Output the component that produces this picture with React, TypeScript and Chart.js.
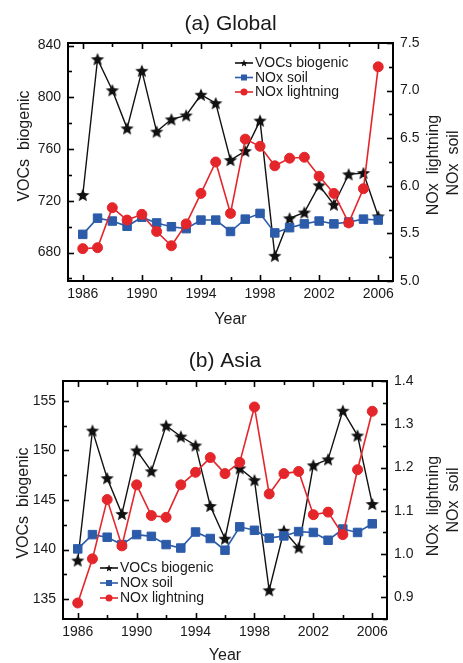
import React, { useEffect, useRef } from "react";
import { Chart, registerables } from "chart.js";

Chart.register(...registerables);

// ---- data ----
const years = [
  1986, 1987, 1988, 1989, 1990, 1991, 1992, 1993, 1994, 1995, 1996,
  1997, 1998, 1999, 2000, 2001, 2002, 2003, 2004, 2005, 2006,
];

const globalVocs = [
  724.5, 829.5, 805.5, 776, 820.5, 773.5, 783, 786, 802, 795.5, 751.5,
  758.5, 782, 677.5, 706.5, 711, 732, 717, 740.5, 741.5, 708,
];
const globalNoxSoil = [
  5.49, 5.66, 5.63, 5.575, 5.67, 5.61, 5.57, 5.55, 5.64, 5.64, 5.52,
  5.65, 5.71, 5.505, 5.56, 5.6, 5.63, 5.6, 5.62, 5.65, 5.64,
];
const globalNoxLightning = [
  5.34, 5.35, 5.77, 5.64, 5.7, 5.52, 5.37, 5.6, 5.92, 6.25, 5.71,
  6.49, 6.415, 6.21, 6.29, 6.3, 6.1, 5.92, 5.61, 5.97, 7.25,
];

const asiaVocs = [
  138.9, 152.0, 147.2, 143.6, 150.0, 147.9, 152.5, 151.4, 150.5, 144.4, 141.1,
  148.2, 147.0, 135.9, 141.9, 140.2, 148.5, 149.1, 154.0, 151.5, 144.6,
];
const asiaNoxSoil = [
  1.012, 1.045, 1.039, 1.022, 1.045, 1.041, 1.022, 1.014, 1.051, 1.036, 1.009,
  1.063, 1.055, 1.037, 1.042, 1.052, 1.05, 1.032, 1.058, 1.05, 1.07,
];
const asiaNoxLightning = [
  0.887, 0.989, 1.126, 1.019, 1.16, 1.089, 1.085, 1.16, 1.189, 1.223, 1.186,
  1.212, 1.34, 1.139, 1.186, 1.191, 1.091, 1.097, 1.045, 1.195, 1.33,
];

const yearTicks = [1986, 1990, 1994, 1998, 2002, 2006];
const globalLeftTicks = [680, 720, 760, 800, 840];
const globalRightTicks = [5.0, 5.5, 6.0, 6.5, 7.0, 7.5];
const asiaLeftTicks = [135, 140, 145, 150, 155];
const asiaRightTicks = [0.9, 1.0, 1.1, 1.2, 1.3, 1.4];

const seriesNames = ["VOCs biogenic", "NOx soil", "NOx lightning"];

// ---- styling ----
const FONT = "'Liberation Sans', Arial, Helvetica, sans-serif";
const BLACK = "#111111";
const BLUE = "#2c5ca9";
const RED = "#e4262b";
const TEXT = "#1a1a1a";

function makeStar(size: number, outer: number, inner: number, color: string) {
  const c = document.createElement("canvas");
  c.width = size;
  c.height = size;
  const ctx = c.getContext("2d")!;
  ctx.fillStyle = color;
  ctx.beginPath();
  const cx = size / 2;
  const cy = size / 2 + outer * 0.09;
  for (let i = 0; i < 10; i++) {
    const r = i % 2 === 0 ? outer : inner;
    const a = -Math.PI / 2 + (i * Math.PI) / 5;
    const px = cx + r * Math.cos(a);
    const py = cy + r * Math.sin(a);
    if (i === 0) ctx.moveTo(px, py);
    else ctx.lineTo(px, py);
  }
  ctx.closePath();
  ctx.fill();
  return c;
}

type PanelSpec = {
  height: number;
  padTop: number;
  leftWidth: number;
  rightWidth: number;
  xHeight: number;
  vocs: number[];
  soil: number[];
  lightning: number[];
  leftMin: number;
  leftMax: number;
  leftTicks: number[];
  leftMinor: number;
  rightMin: number;
  rightMax: number;
  rightTicks: number[];
  rightMinor: number;
  title: string;
  titleY: number;
  yearY: number;
  leftTitleX: number;
  leftTitleY: number;
  rightTitleX1: number;
  rightTitleY1: number;
  rightTitleX2: number;
  rightTitleY2: number;
  legendX: number;
  legendY: number;
  legendGap: number;
};

function minorValues(min: number, max: number, step: number) {
  const out: number[] = [];
  const start = Math.ceil(min / step - 1e-9);
  for (let k = start; k * step <= max + 1e-9; k++) out.push(+(k * step).toFixed(6));
  return out;
}

function drawRotated(ctx: CanvasRenderingContext2D, text: string, x: number, y: number, font: string) {
  ctx.save();
  ctx.translate(x, y);
  ctx.rotate(-Math.PI / 2);
  ctx.font = font;
  ctx.fillStyle = TEXT;
  ctx.textAlign = "center";
  ctx.textBaseline = "alphabetic";
  ctx.fillText(text, 0, 0);
  ctx.restore();
}

function makeFramePlugin(spec: PanelSpec, star: HTMLCanvasElement) {
  return {
    id: "panelFrame",
    beforeDatasetsDraw(chart: any) {
      const { ctx, chartArea: a, scales } = chart;
      ctx.save();
      ctx.strokeStyle = "#000";
      ctx.lineWidth = 1.6;
      // x ticks every two years, longer at labelled years
      for (let yr = 1986; yr <= 2006; yr += 2) {
        const px = Math.round(scales.x.getPixelForValue(yr)) + 0.5;
        const len = yearTicks.includes(yr) ? 6 : 4;
        ctx.beginPath();
        ctx.moveTo(px, a.bottom);
        ctx.lineTo(px, a.bottom - len);
        ctx.moveTo(px, a.top);
        ctx.lineTo(px, a.top + len);
        ctx.stroke();
      }
      // left axis ticks
      minorValues(spec.leftMin, spec.leftMax, spec.leftMinor).forEach((v) => {
        const py = Math.round(scales.yL.getPixelForValue(v)) + 0.5;
        const major = spec.leftTicks.some((t) => Math.abs(t - v) < 1e-6);
        ctx.beginPath();
        ctx.moveTo(a.left, py);
        ctx.lineTo(a.left + (major ? 6 : 4), py);
        ctx.stroke();
      });
      // right axis ticks
      minorValues(spec.rightMin, spec.rightMax, spec.rightMinor).forEach((v) => {
        const py = Math.round(scales.yR.getPixelForValue(v)) + 0.5;
        const major = spec.rightTicks.some((t) => Math.abs(t - v) < 1e-6);
        ctx.beginPath();
        ctx.moveTo(a.right, py);
        ctx.lineTo(a.right - (major ? 6 : 4), py);
        ctx.stroke();
      });
      // box
      ctx.lineWidth = 2;
      ctx.strokeRect(a.left, a.top, a.right - a.left, a.bottom - a.top);
      ctx.restore();
    },
    afterDraw(chart: any) {
      const { ctx, chartArea: a } = chart;
      ctx.save();
      ctx.fillStyle = TEXT;
      ctx.textAlign = "center";
      ctx.textBaseline = "alphabetic";
      ctx.font = `21px ${FONT}`;
      ctx.fillText(spec.title, (a.left + a.right) / 2, spec.titleY);
      ctx.font = `16px ${FONT}`;
      ctx.fillText("Year", (a.left + a.right) / 2, spec.yearY);
      ctx.restore();

      drawRotated(ctx, "VOCs  biogenic", spec.leftTitleX, spec.leftTitleY, `16px ${FONT}`);
      drawRotated(ctx, "NOx  lightning", spec.rightTitleX1, spec.rightTitleY1, `16px ${FONT}`);
      drawRotated(ctx, "NOx  soil", spec.rightTitleX2, spec.rightTitleY2, `16px ${FONT}`);

      // legend
      const colors = [BLACK, BLUE, RED];
      ctx.save();
      ctx.font = `14px ${FONT}`;
      ctx.textBaseline = "middle";
      ctx.textAlign = "left";
      seriesNames.forEach((name, i) => {
        const y = spec.legendY + i * spec.legendGap;
        const x0 = spec.legendX;
        const x1 = x0 + 18;
        const mx = (x0 + x1) / 2;
        ctx.strokeStyle = colors[i];
        ctx.lineWidth = 1.6;
        ctx.beginPath();
        ctx.moveTo(x0, y);
        ctx.lineTo(x1, y);
        ctx.stroke();
        ctx.fillStyle = colors[i];
        if (i === 0) {
          ctx.drawImage(star, mx - 5, y - 5, 10, 10);
        } else if (i === 1) {
          ctx.fillRect(mx - 3, y - 3, 6, 6);
        } else {
          ctx.beginPath();
          ctx.arc(mx, y, 3.5, 0, Math.PI * 2);
          ctx.fill();
        }
        ctx.fillStyle = TEXT;
        ctx.fillText(name, x1 + 2, y + 0.5);
      });
      ctx.restore();
    },
  };
}

function Panel({ spec }: { spec: PanelSpec }) {
  const ref = useRef<HTMLCanvasElement | null>(null);

  useEffect(() => {
    const canvas = ref.current;
    if (!canvas) return;
    const star = makeStar(18, 7, 3.1, BLACK);
    const pts = (vals: number[]) => years.map((x, i) => ({ x, y: vals[i] }));
    const tickFont = { family: FONT, size: 14 };

    const chart = new Chart(canvas, {
      type: "line",
      data: {
        datasets: [
          {
            label: seriesNames[2],
            data: pts(spec.lightning),
            yAxisID: "yR",
            borderColor: RED,
            backgroundColor: RED,
            borderWidth: 1.6,
            pointStyle: "circle",
            pointRadius: 5,
            pointBorderWidth: 1,
            pointBorderColor: RED,
            pointBackgroundColor: RED,
            tension: 0,
            order: 1,
          },
          {
            label: seriesNames[1],
            data: pts(spec.soil),
            yAxisID: "yR",
            borderColor: BLUE,
            backgroundColor: BLUE,
            borderWidth: 1.6,
            pointStyle: "rect",
            pointRadius: 6,
            pointBorderWidth: 1,
            pointBorderColor: BLUE,
            pointBackgroundColor: BLUE,
            tension: 0,
            order: 2,
          },
          {
            label: seriesNames[0],
            data: pts(spec.vocs),
            yAxisID: "yL",
            borderColor: BLACK,
            backgroundColor: BLACK,
            borderWidth: 1.4,
            pointStyle: star as any,
            pointRadius: 7,
            tension: 0,
            order: 3,
          },
        ],
      },
      options: {
        responsive: false,
        animation: false,
        events: [],
        layout: { padding: { top: spec.padTop, left: 0, right: 0, bottom: 0 } },
        plugins: {
          legend: { display: false },
          title: { display: false },
          tooltip: { enabled: false },
        },
        scales: {
          x: {
            type: "linear",
            min: 1985,
            max: 2007,
            grid: { display: false, drawTicks: false },
            border: { display: false },
            afterBuildTicks: (s: any) => {
              s.ticks = yearTicks.map((v) => ({ value: v }));
            },
            afterFit: (s: any) => {
              s.height = spec.xHeight;
            },
            ticks: {
              padding: 5,
              color: TEXT,
              font: tickFont,
              maxRotation: 0,
              autoSkip: false,
              callback: (v: any) => String(v),
            },
          },
          yL: {
            type: "linear",
            position: "left",
            min: spec.leftMin,
            max: spec.leftMax,
            grid: { display: false, drawTicks: false },
            border: { display: false },
            afterBuildTicks: (s: any) => {
              s.ticks = spec.leftTicks.map((v) => ({ value: v }));
            },
            afterFit: (s: any) => {
              s.width = spec.leftWidth;
            },
            ticks: {
              padding: 7,
              color: TEXT,
              font: tickFont,
              autoSkip: false,
              callback: (v: any) => String(v),
            },
          },
          yR: {
            type: "linear",
            position: "right",
            min: spec.rightMin,
            max: spec.rightMax,
            grid: { display: false, drawTicks: false },
            border: { display: false },
            afterBuildTicks: (s: any) => {
              s.ticks = spec.rightTicks.map((v) => ({ value: v }));
            },
            afterFit: (s: any) => {
              s.width = spec.rightWidth;
            },
            ticks: {
              padding: 7,
              color: TEXT,
              font: tickFont,
              autoSkip: false,
              callback: (v: any) => Number(v).toFixed(1),
            },
          },
        },
      } as any,
      plugins: [makeFramePlugin(spec, star)],
    });

    return () => chart.destroy();
  }, [spec]);

  return <canvas ref={ref} width={463} height={spec.height} style={{ display: "block" }} />;
}

const globalSpec: PanelSpec = {
  height: 331,
  padTop: 43,
  leftWidth: 68,
  rightWidth: 70,
  xHeight: 50,
  vocs: globalVocs,
  soil: globalNoxSoil,
  lightning: globalNoxLightning,
  leftMin: 658,
  leftMax: 842,
  leftTicks: globalLeftTicks,
  leftMinor: 20,
  rightMin: 5.0,
  rightMax: 7.5,
  rightTicks: globalRightTicks,
  rightMinor: 0.25,
  title: "(a) Global",
  titleY: 30,
  yearY: 324,
  leftTitleX: 29,
  leftTitleY: 146,
  rightTitleX1: 438,
  rightTitleY1: 165,
  rightTitleX2: 458,
  rightTitleY2: 163,
  legendX: 235,
  legendY: 63,
  legendGap: 14.5,
};

const asiaSpec: PanelSpec = {
  height: 332,
  padTop: 50,
  leftWidth: 63,
  rightWidth: 76,
  xHeight: 44,
  vocs: asiaVocs,
  soil: asiaNoxSoil,
  lightning: asiaNoxLightning,
  leftMin: 133,
  leftMax: 157,
  leftTicks: asiaLeftTicks,
  leftMinor: 2.5,
  rightMin: 0.85,
  rightMax: 1.4,
  rightTicks: asiaRightTicks,
  rightMinor: 0.05,
  title: "(b) Asia",
  titleY: 36,
  yearY: 329,
  leftTitleX: 28,
  leftTitleY: 172,
  rightTitleX1: 438,
  rightTitleY1: 175,
  rightTitleX2: 458,
  rightTitleY2: 169,
  legendX: 100,
  legendY: 237,
  legendGap: 15,
};

export default function App() {
  return (
    <div style={{ position: "absolute", left: 0, top: 0, width: 463, height: 663, background: "#fff" }}>
      <Panel spec={globalSpec} />
      <Panel spec={asiaSpec} />
    </div>
  );
}
